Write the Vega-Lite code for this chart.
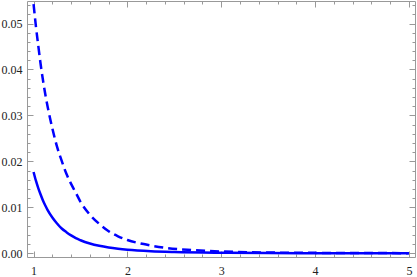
{
  "$schema": "https://vega.github.io/schema/vega-lite/v6.json",
  "autosize": "none",
  "width": 388,
  "height": 256,
  "padding": {"left": 27, "top": 1, "right": 2, "bottom": 20},
  "background": "white",
  "config": {
    "view": {"stroke": null},
    "axis": {
      "domainColor": "#999999",
      "tickColor": "#999999",
      "labelFont": "Liberation Serif",
      "labelFontSize": 12,
      "labelColor": "#222222",
      "grid": false,
      "title": null
    }
  },
  "data": {
    "values": [
      {"x": 1.0, "y": 0.0177, "series": "a"},
      {"x": 1.025, "y": 0.0158, "series": "a"},
      {"x": 1.05, "y": 0.0142, "series": "a"},
      {"x": 1.075, "y": 0.0128, "series": "a"},
      {"x": 1.1, "y": 0.0115, "series": "a"},
      {"x": 1.125, "y": 0.0104, "series": "a"},
      {"x": 1.15, "y": 0.0094, "series": "a"},
      {"x": 1.2, "y": 0.0078, "series": "a"},
      {"x": 1.25, "y": 0.0065, "series": "a"},
      {"x": 1.3, "y": 0.0054, "series": "a"},
      {"x": 1.35, "y": 0.0046, "series": "a"},
      {"x": 1.4, "y": 0.0039, "series": "a"},
      {"x": 1.45, "y": 0.0033, "series": "a"},
      {"x": 1.5, "y": 0.00285, "series": "a"},
      {"x": 1.6, "y": 0.00214, "series": "a"},
      {"x": 1.7, "y": 0.00163, "series": "a"},
      {"x": 1.8, "y": 0.00126, "series": "a"},
      {"x": 1.9, "y": 0.00099, "series": "a"},
      {"x": 2.0, "y": 0.00078, "series": "a"},
      {"x": 2.25, "y": 0.00046, "series": "a"},
      {"x": 2.5, "y": 0.00029, "series": "a"},
      {"x": 3.0, "y": 0.00013, "series": "a"},
      {"x": 3.5, "y": 0.00006, "series": "a"},
      {"x": 4.0, "y": 0.000035, "series": "a"},
      {"x": 4.5, "y": 0.00002, "series": "a"},
      {"x": 5.0, "y": 0.000013, "series": "a"},
      {"x": 1.0, "y": 0.0542, "series": "b"},
      {"x": 1.025, "y": 0.0494, "series": "b"},
      {"x": 1.05, "y": 0.0452, "series": "b"},
      {"x": 1.075, "y": 0.0412, "series": "b"},
      {"x": 1.1, "y": 0.0377, "series": "b"},
      {"x": 1.125, "y": 0.0346, "series": "b"},
      {"x": 1.15, "y": 0.0319, "series": "b"},
      {"x": 1.2, "y": 0.0272, "series": "b"},
      {"x": 1.25, "y": 0.0232, "series": "b"},
      {"x": 1.3, "y": 0.0201, "series": "b"},
      {"x": 1.35, "y": 0.0173, "series": "b"},
      {"x": 1.4, "y": 0.0151, "series": "b"},
      {"x": 1.45, "y": 0.0132, "series": "b"},
      {"x": 1.5, "y": 0.0112, "series": "b"},
      {"x": 1.6, "y": 0.0084, "series": "b"},
      {"x": 1.7, "y": 0.0064, "series": "b"},
      {"x": 1.8, "y": 0.0048, "series": "b"},
      {"x": 1.9, "y": 0.0037, "series": "b"},
      {"x": 2.0, "y": 0.0029, "series": "b"},
      {"x": 2.2, "y": 0.0019, "series": "b"},
      {"x": 2.4, "y": 0.0012, "series": "b"},
      {"x": 2.7, "y": 0.0007, "series": "b"},
      {"x": 3.0, "y": 0.0004, "series": "b"},
      {"x": 3.5, "y": 0.00018, "series": "b"},
      {"x": 4.0, "y": 0.0001, "series": "b"},
      {"x": 4.5, "y": 0.00006, "series": "b"},
      {"x": 5.0, "y": 0.00004, "series": "b"}
    ]
  },
  "layer": [
    {
      "transform": [{"filter": "datum.series === 'a'"}],
      "mark": {"type": "line", "color": "#0000ff", "strokeWidth": 2.5, "interpolate": "monotone", "clip": true},
      "encoding": {
        "x": {
          "field": "x", "type": "quantitative",
          "scale": {"domain": [0.93, 5.065], "nice": false, "zero": false},
          "axis": {
            "orient": "bottom",
            "values": [1, 1.2, 1.4, 1.6, 1.8, 2, 2.2, 2.4, 2.6, 2.8, 3, 3.2, 3.4, 3.6, 3.8, 4, 4.2, 4.4, 4.6, 4.8, 5],
            "labelExpr": "abs(datum.value - round(datum.value)) < 1e-6 ? format(datum.value, 'd') : ''",
            "tickSize": {"condition": {"test": "abs(datum.value - round(datum.value)) < 1e-6", "value": -6}, "value": -3},
            "labelPadding": 14,
            "labelFlush": false,
            "labelOverlap": false
          }
        },
        "y": {
          "field": "y", "type": "quantitative",
          "scale": {"domain": [-0.0008, 0.0549], "nice": false, "zero": false},
          "axis": {
            "orient": "left",
            "values": [0, 0.002, 0.004, 0.006, 0.008, 0.01, 0.012, 0.014, 0.016, 0.018, 0.02, 0.022, 0.024, 0.026, 0.028, 0.03, 0.032, 0.034, 0.036, 0.038, 0.04, 0.042, 0.044, 0.046, 0.048, 0.05, 0.052, 0.054],
            "labelExpr": "abs(datum.value * 100 - round(datum.value * 100)) < 1e-6 ? format(datum.value, '.2f') : ''",
            "tickSize": {"condition": {"test": "abs(datum.value * 100 - round(datum.value * 100)) < 1e-6", "value": -6}, "value": -3},
            "labelPadding": 11,
            "labelFlush": false,
            "labelOverlap": false
          }
        }
      }
    },
    {
      "transform": [{"filter": "datum.series === 'b'"}],
      "mark": {"type": "line", "color": "#0000ff", "strokeWidth": 2.5, "strokeDash": [9, 5], "interpolate": "monotone", "clip": true},
      "encoding": {
        "x": {
          "field": "x", "type": "quantitative",
          "axis": {
            "orient": "top",
            "values": [1, 1.2, 1.4, 1.6, 1.8, 2, 2.2, 2.4, 2.6, 2.8, 3, 3.2, 3.4, 3.6, 3.8, 4, 4.2, 4.4, 4.6, 4.8, 5],
            "labels": false,
            "tickSize": {"condition": {"test": "abs(datum.value - round(datum.value)) < 1e-6", "value": -6}, "value": -3}
          }
        },
        "y": {
          "field": "y", "type": "quantitative",
          "axis": {
            "orient": "right",
            "values": [0, 0.002, 0.004, 0.006, 0.008, 0.01, 0.012, 0.014, 0.016, 0.018, 0.02, 0.022, 0.024, 0.026, 0.028, 0.03, 0.032, 0.034, 0.036, 0.038, 0.04, 0.042, 0.044, 0.046, 0.048, 0.05, 0.052, 0.054],
            "labels": false,
            "tickSize": {"condition": {"test": "abs(datum.value * 100 - round(datum.value * 100)) < 1e-6", "value": -6}, "value": -3}
          }
        }
      }
    }
  ],
  "resolve": {"axis": {"x": "independent", "y": "independent"}}
}
